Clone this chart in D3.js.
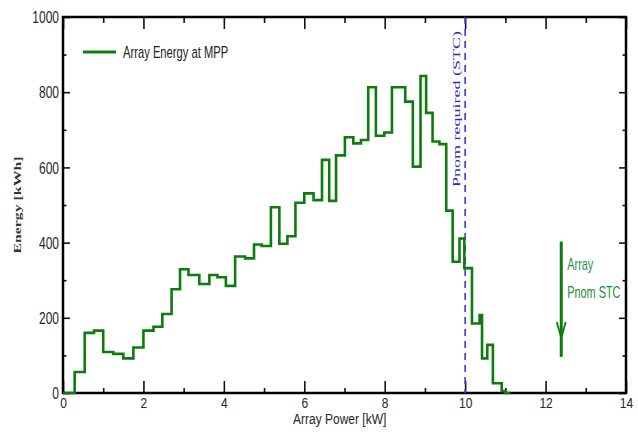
<!DOCTYPE html>
<html>
<head>
<meta charset="utf-8">
<script src="https://cdn.jsdelivr.net/npm/d3@7"></script>
<style>
  body { margin: 0; background: #fff; }
</style>
</head>
<body>
<svg id="chart" width="638" height="440"></svg>
<script>

// left edge of each bin [kW], the last entry is the right edge of the last bin
const binEdges = [
  0, 0.29, 0.54, 0.77, 1.00, 1.25, 1.50, 1.75, 2.00, 2.25,
  2.47, 2.70, 2.91, 3.12, 3.39, 3.64, 3.84, 4.05, 4.28, 4.53,
  4.75, 4.94, 5.17, 5.38, 5.58, 5.78, 6.00, 6.23, 6.44, 6.62,
  6.79, 7.01, 7.22, 7.41, 7.59, 7.78, 7.99, 8.18, 8.35, 8.51,
  8.70, 8.89, 9.03, 9.19, 9.36, 9.53, 9.69, 9.86, 9.98, 10.17,
  10.36, 10.42, 10.55, 10.69, 10.91, 11.00, 11.12
];

// energy of each bin [kWh]
const energy = [
  0, 56, 160, 166, 109, 104, 92, 121, 166, 176,
  210, 276, 329, 314, 290, 314, 308, 285, 363, 358,
  395, 391, 494, 397, 417, 506, 531, 513, 620, 511,
  632, 680, 664, 673, 813, 684, 693, 813, 813, 775,
  602, 843, 745, 669, 662, 485, 349, 411, 332, 185,
  207, 92, 128, 26, 5, 0
];

const xMajorTicks = [0, 2, 4, 6, 8, 10, 12, 14];
const xMinorTicks = [1, 3, 5, 7, 9, 11, 13];
const yMajorTicks = [0, 200, 400, 600, 800, 1000];
const yMinorTicks = [100, 300, 500, 700, 900];

const pnomRequired = 10;       // kW
const pnomStc = 12.39;         // kW
const arrowSpan = [403, 96];   // kWh (top, bottom)

const seriesName = "Array Energy at MPP";
const xTitle = "Array Power [kW]";
const yTitle = "Energy [kWh]";
const pnomReqLabel = "Pnom required (STC)";
const pnomStcLabel = ["Array", "Pnom STC"];

/* ---- setup ---- */
const svg = d3.select("#chart");
const width = 638, height = 440;
const margin = {top: 17, right: 12, bottom: 47, left: 63};

const sans = "'Liberation Sans', Arial, sans-serif";
const serif = "'Liberation Serif', 'Times New Roman', serif";
const green = "#0c7c0c";

svg.append("rect").attr("width", width).attr("height", height).attr("fill", "#fff");

const x = d3.scaleLinear()
  .domain([0, 14])
  .range([margin.left, width - margin.right]);

const y = d3.scaleLinear()
  .domain([0, 1000])
  .range([height - margin.bottom, margin.top]);

// narrow text (the reference font is condensed)
function narrowText(sel, sx) {
  sel.each(function() {
    const t = d3.select(this);
    const tx = +t.attr("x") || 0;
    t.attr("x", tx / sx).attr("transform", `scale(${sx},1)`);
  });
}

/* ---- axes ---- */
function axis(gen, transform, ticks, size, labels) {
  const g = svg.append("g")
    .attr("transform", transform)
    .call(gen.tickValues(ticks).tickSizeInner(-size).tickSizeOuter(0)
      .tickPadding(labels ? 4 : 0)
      .tickFormat(labels ? d3.format("d") : ""));
  g.select(".domain").remove();
  g.selectAll("line").attr("stroke", "#111").attr("stroke-width", 1.6);
  g.selectAll("text")
    .attr("font-family", sans)
    .attr("font-size", 16)
    .attr("fill", "#262626");
  return g;
}

const atBottom = `translate(0,${y(0)})`;
const atTop = `translate(0,${y(1000)})`;
const atLeft = `translate(${x(0)},0)`;
const atRight = `translate(${x(14)},0)`;

const xAx = axis(d3.axisBottom(x), atBottom, xMajorTicks, 12, true);
xAx.selectAll("text").attr("dy", null).attr("y", 15).attr("font-size", 15);
narrowText(xAx.selectAll("text"), 0.8);
axis(d3.axisBottom(x), atBottom, xMinorTicks, 5, false);
axis(d3.axisTop(x), atTop, xMajorTicks, 12, false);
axis(d3.axisTop(x), atTop, xMinorTicks, 6, false);

const yAx = axis(d3.axisLeft(y), atLeft, yMajorTicks, 7, true);
yAx.selectAll("text").attr("dy", "0.36em");
narrowText(yAx.selectAll("text"), 0.75);
axis(d3.axisLeft(y), atLeft, yMinorTicks, 3.5, false);
axis(d3.axisRight(y), atRight, yMajorTicks, 7, false);
axis(d3.axisRight(y), atRight, yMinorTicks, 3.5, false);

// frame
svg.append("rect")
  .attr("x", x(0)).attr("y", y(1000))
  .attr("width", x(14) - x(0)).attr("height", y(0) - y(1000))
  .attr("fill", "none")
  .attr("stroke", "#000")
  .attr("stroke-width", 2.5);

/* ---- axis titles ---- */
svg.append("text")
  .attr("x", (x(0) + x(14)) / 2 / 0.8 - 6)
  .attr("y", 424)
  .attr("transform", "scale(0.8,1)")
  .attr("text-anchor", "middle")
  .attr("font-family", sans)
  .attr("font-size", 15)
  .attr("fill", "#262626")
  .text(xTitle);

svg.append("text")
  .attr("transform", "translate(21,205) rotate(-90)")
  .attr("text-anchor", "middle")
  .attr("font-family", serif)
  .attr("font-weight", "bold")
  .attr("font-size", 11)
  .attr("textLength", 97)
  .attr("lengthAdjust", "spacingAndGlyphs")
  .attr("fill", "#333")
  .text(yTitle);

/* ---- Pnom required line ---- */
svg.append("line")
  .attr("x1", x(pnomRequired)).attr("x2", x(pnomRequired))
  .attr("y1", y(1000)).attr("y2", y(0))
  .attr("stroke", "#3a3ad8")
  .attr("stroke-width", 1.6)
  .attr("stroke-dasharray", "7,5");

svg.append("text")
  .attr("transform", `translate(${x(pnomRequired) - 5.5},187) rotate(-90)`)
  .attr("font-family", serif)
  .attr("font-size", 10.5)
  .attr("textLength", 156)
  .attr("lengthAdjust", "spacingAndGlyphs")
  .attr("fill", "#2b2bb0")
  .text(pnomReqLabel);

/* ---- energy histogram (step line) ---- */
const points = energy.map((v, i) => [binEdges[i], v]);
points.push([binEdges[binEdges.length - 1], energy[energy.length - 1]]);

const stepLine = d3.line()
  .x(d => x(d[0]))
  .y(d => y(d[1]))
  .curve(d3.curveStepAfter);

svg.append("path")
  .datum(points)
  .attr("d", stepLine)
  .attr("fill", "none")
  .attr("stroke", green)
  .attr("stroke-width", 2.6)
  .attr("stroke-linejoin", "miter");

/* ---- legend ---- */
svg.append("line")
  .attr("x1", 83).attr("x2", 116)
  .attr("y1", 52).attr("y2", 52)
  .attr("stroke", green)
  .attr("stroke-width", 3);

svg.append("text")
  .attr("x", 123 / 0.66).attr("y", 58)
  .attr("transform", "scale(0.66,1)")
  .attr("font-family", sans)
  .attr("font-size", 17)
  .attr("fill", "#222")
  .text(seriesName);

/* ---- Array Pnom STC arrow ---- */
const ax = x(pnomStc);
const arrow = svg.append("g")
  .attr("stroke", green)
  .attr("fill", "none")
  .attr("stroke-width", 3);
arrow.append("line")
  .attr("x1", ax).attr("x2", ax)
  .attr("y1", y(arrowSpan[0])).attr("y2", y(arrowSpan[1]));
arrow.append("path")
  .attr("stroke-width", 1.8)
  .attr("d", `M${ax - 4.5},${y(arrowSpan[1]) - 35} L${ax},${y(arrowSpan[1]) - 19} L${ax + 4.5},${y(arrowSpan[1]) - 35}`);

pnomStcLabel.forEach((s, i) => {
  svg.append("text")
    .attr("x", (ax + 6) / 0.64).attr("y", 270 + i * 28)
    .attr("transform", "scale(0.64,1)")
    .attr("font-family", sans)
    .attr("font-size", 17)
    .attr("fill", "#1f8f3a")
    .text(s);
});

</script>
</body>
</html>
